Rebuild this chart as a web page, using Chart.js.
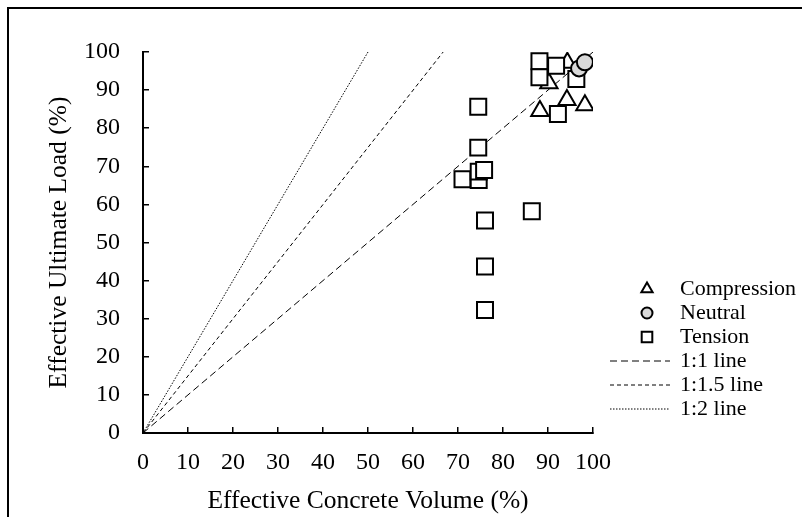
<!DOCTYPE html>
<html>
<head>
<meta charset="utf-8">
<script src="https://cdn.jsdelivr.net/npm/chart.js@4"></script>
<style>
  html, body { margin: 0; padding: 0; background: #fff; }
  #wrap { width: 802px; height: 517px; position: relative; }
</style>
</head>
<body>
<div id="wrap"><canvas id="chart" width="802" height="517"></canvas></div>
<script>
// values (Effective Concrete Volume %, Effective Ultimate Load %)
const compressionX = [94.3, 90.2, 94.2, 88.2, 98.2];
const compressionY = [97.2, 91.8, 87.4, 84.5, 86.0];

const neutralX = [96.9, 98.2];
const neutralY = [95.7, 97.3];

const tensionX = [88.1, 91.8, 88.1, 96.3, 92.2, 74.5, 74.5, 71.0, 74.6, 74.6, 75.8, 76.0, 86.4, 76.0, 76.0];
const tensionY = [97.6, 96.4, 93.4, 92.9, 83.7, 85.6, 74.9, 66.6, 66.4, 68.6, 69.0, 55.8, 58.2, 43.7, 32.3];

// reference lines, end points
const line11X = [0, 100];
const line11Y = [0, 100];
const line115X = [0, 66.7];
const line115Y = [0, 100];
const line12X = [0, 50];
const line12Y = [0, 100];

const axisTicks = [0, 10, 20, 30, 40, 50, 60, 70, 80, 90, 100];

const FONT = "'Liberation Serif', 'Times New Roman', serif";

function pts(xs, ys) {
  return xs.map((x, i) => ({ x: x, y: ys[i] }));
}

const datasets = [
  {
    label: "Compression",
    data: pts(compressionX, compressionY),
    pointStyle: "triangle",
    pointRadius: 10,
    pointBorderWidth: 2,
    pointBackgroundColor: "#fff",
    pointBorderColor: "#000",
    showLine: false,
    order: 2,
    legendRadius: 6.5
  },
  {
    label: "Neutral",
    data: pts(neutralX, neutralY),
    pointStyle: "circle",
    pointRadius: 8,
    pointBorderWidth: 2,
    pointBackgroundColor: "#d9d9d9",
    pointBorderColor: "#000",
    showLine: false,
    order: 0,
    legendRadius: 5.5
  },
  {
    label: "Tension",
    data: pts(tensionX, tensionY),
    pointStyle: "rect",
    pointRadius: 11.3,
    pointBorderWidth: 2,
    pointBackgroundColor: "#fff",
    pointBorderColor: "#000",
    showLine: false,
    order: 1,
    legendRadius: 7.5
  },
  {
    label: "1:1 line",
    data: pts(line11X, line11Y),
    showLine: true,
    borderColor: "#000",
    borderWidth: 1,
    borderDash: [7, 4],
    pointRadius: 0,
    order: 3
  },
  {
    label: "1:1.5 line",
    data: pts(line115X, line115Y),
    showLine: true,
    borderColor: "#000",
    borderWidth: 1,
    borderDash: [4, 3],
    pointRadius: 0,
    order: 3
  },
  {
    label: "1:2 line",
    data: pts(line12X, line12Y),
    showLine: true,
    borderColor: "#000",
    borderWidth: 1,
    borderDash: [1.5, 1.5],
    pointRadius: 0,
    order: 3
  }
];

// outer frame, only top and left edges fall inside the picture
const framePlugin = {
  id: "frame",
  beforeDraw(chart) {
    const ctx = chart.ctx;
    ctx.save();
    ctx.fillStyle = "#fff";
    ctx.fillRect(0, 0, chart.width, chart.height);
    ctx.strokeStyle = "#000";
    ctx.lineWidth = 2;
    ctx.strokeRect(8, 8, chart.width + 100, chart.height + 100);
    ctx.restore();
  }
};

function marker(ctx, style, r, x, y) {
  if (Chart.helpers && Chart.helpers.drawPoint) {
    Chart.helpers.drawPoint(ctx, { pointStyle: style, radius: r, rotation: 0, borderWidth: 2 }, x, y);
    return;
  }
  ctx.beginPath();
  if (style === "triangle") {
    ctx.moveTo(x, y - r);
    ctx.lineTo(x + r * 0.866, y + r / 2);
    ctx.lineTo(x - r * 0.866, y + r / 2);
    ctx.closePath();
  } else if (style === "rect") {
    const s = r * Math.SQRT1_2;
    ctx.rect(x - s, y - s, 2 * s, 2 * s);
  } else {
    ctx.arc(x, y, r, 0, Math.PI * 2);
  }
  ctx.fill();
  ctx.stroke();
}

const legendPlugin = {
  id: "sideLegend",
  afterDraw(chart) {
    const ctx = chart.ctx;
    const markX = 647, lineX0 = 610, lineX1 = 670, textX = 680;
    const y0 = 289, step = 24;
    ctx.save();
    ctx.font = "22px " + FONT;
    ctx.textBaseline = "middle";
    chart.data.datasets.forEach((ds, i) => {
      const y = y0 + i * step;
      if (ds.showLine) {
        ctx.strokeStyle = ds.borderColor;
        ctx.lineWidth = ds.borderWidth;
        ctx.setLineDash(ds.borderDash);
        ctx.beginPath();
        ctx.moveTo(lineX0, y);
        ctx.lineTo(lineX1, y);
        ctx.stroke();
        ctx.setLineDash([]);
      } else {
        ctx.fillStyle = ds.pointBackgroundColor;
        ctx.strokeStyle = ds.pointBorderColor;
        ctx.lineWidth = 2;
        marker(ctx, ds.pointStyle, ds.legendRadius, markX, y);
      }
      ctx.fillStyle = "#000";
      ctx.fillText(ds.label, textX, y);
    });
    ctx.restore();
  }
};

function axis(title, pos) {
  return {
    type: "linear",
    position: pos,
    min: 0,
    max: 100,
    afterBuildTicks(scale) {
      scale.ticks = axisTicks.map(v => ({ value: v }));
    },
    ticks: {
      color: "#000",
      font: { family: FONT, size: 24 },
      padding: pos === "left" ? 29 : 21,
      maxRotation: 0,
      autoSkip: false
    },
    grid: {
      drawOnChartArea: false,
      tickLength: -6,
      color: "#000",
      lineWidth: 1.5
    },
    border: { color: "#000", width: 2 },
    title: {
      display: true,
      text: title,
      color: "#000",
      font: { family: FONT, size: 25.5 },
      padding: 0
    },
    afterFit(scale) {
      if (pos === "left") scale.width = 99;
      else scale.height = 84;
    }
  };
}

new Chart(document.getElementById("chart"), {
  type: "scatter",
  data: { datasets: datasets },
  options: {
    responsive: false,
    animation: false,
    layout: { padding: { left: 44, top: 52, right: 209, bottom: 0 } },
    plugins: {
      legend: { display: false },
      tooltip: { enabled: false }
    },
    scales: {
      x: axis("Effective Concrete Volume (%)", "bottom"),
      y: axis("Effective Ultimate Load (%)", "left")
    }
  },
  plugins: [framePlugin, legendPlugin]
});
</script>
</body>
</html>
